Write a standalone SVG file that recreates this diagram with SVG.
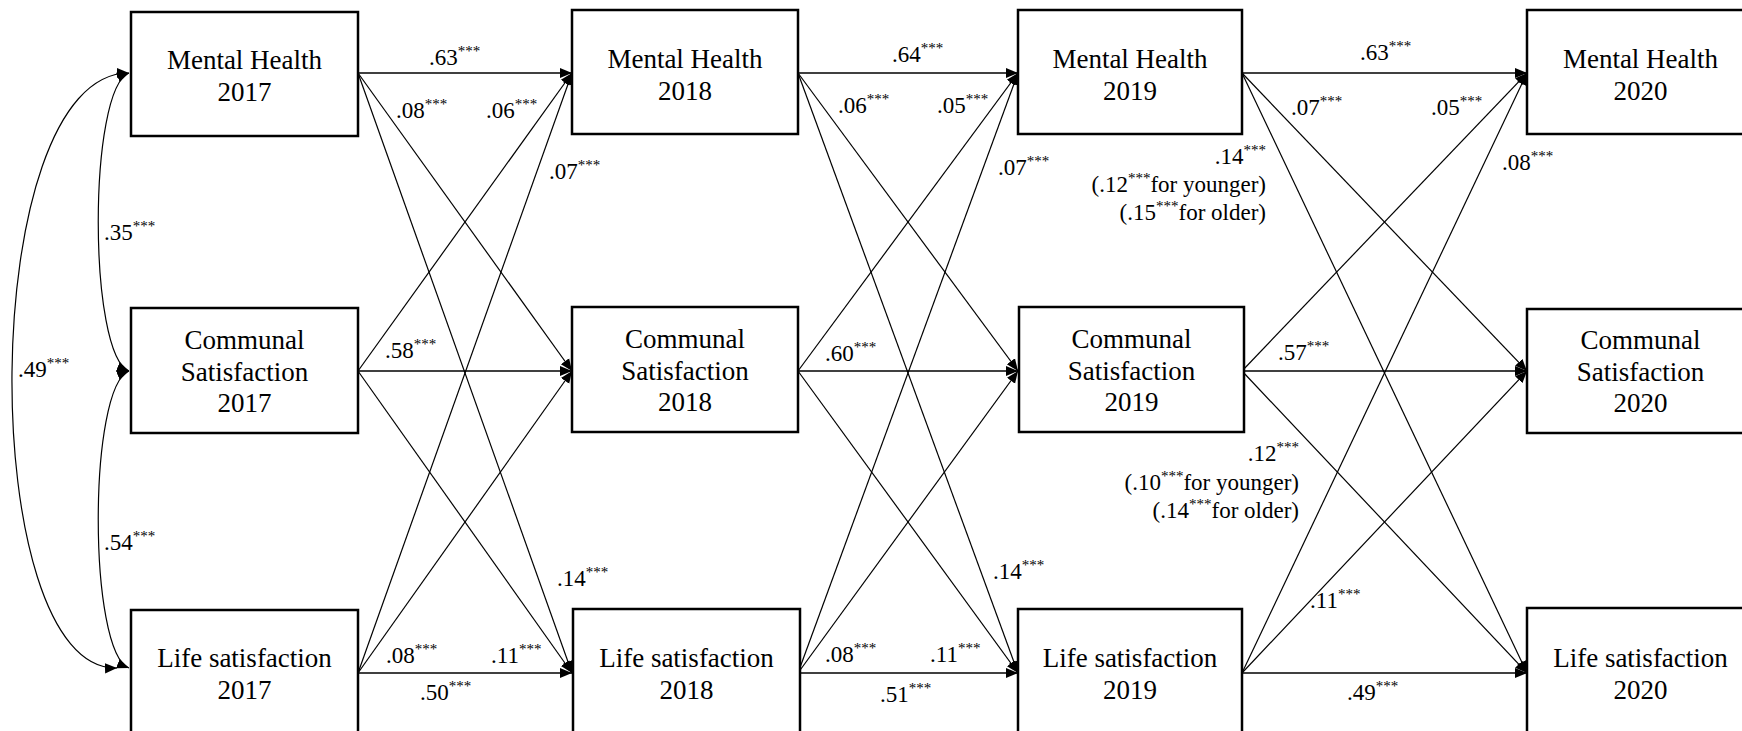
<svg xmlns="http://www.w3.org/2000/svg" width="1742" height="731" viewBox="0 0 1742 731">
<style>
.box{fill:#fff;stroke:#000;stroke-width:2.5}
.nt{font-family:"Liberation Serif","Times New Roman",serif;font-size:27px;text-anchor:middle;fill:#000}
.lb{font-family:"Liberation Serif","Times New Roman",serif;font-size:23px;fill:#000}
.st{font-size:15px}
.c{stroke:#000;stroke-width:1.2;fill:none;marker-end:url(#ah)}
.h{stroke-width:1.7}
.cv{stroke:#000;stroke-width:1.2;fill:none;marker-start:url(#ah);marker-end:url(#ah)}
</style>
<defs>
<marker id="ah" viewBox="0 0 10 10" refX="10" refY="5" markerWidth="12" markerHeight="12" markerUnits="userSpaceOnUse" orient="auto-start-reverse">
<path d="M0,0.8 L10,5 L0,9.2 z" fill="#000"/>
</marker>
</defs>
<rect x="0" y="0" width="1742" height="731" fill="#fff"/>

<g id="connectors">
<path class="cv" d="M129,73 C-25,73 -25,672 117,668"/>
<path class="cv" d="M129,73 C88,89 88,355 129,371"/>
<path class="cv" d="M129,371 C88,387 88,652 129,668"/>
<line class="c h" x1="358" y1="73" x2="572" y2="73"/>
<line class="c" x1="358" y1="73" x2="572" y2="371"/>
<line class="c" x1="358" y1="73" x2="572" y2="673"/>
<line class="c" x1="358" y1="371" x2="572" y2="73"/>
<line class="c h" x1="358" y1="371" x2="572" y2="371"/>
<line class="c" x1="358" y1="371" x2="572" y2="673"/>
<line class="c" x1="358" y1="673" x2="572" y2="73"/>
<line class="c" x1="358" y1="673" x2="572" y2="371"/>
<line class="c h" x1="358" y1="673" x2="572" y2="673"/>
<line class="c h" x1="798" y1="73" x2="1018" y2="73"/>
<line class="c" x1="798" y1="73" x2="1018" y2="371"/>
<line class="c" x1="798" y1="73" x2="1018" y2="673"/>
<line class="c" x1="798" y1="371" x2="1018" y2="73"/>
<line class="c h" x1="798" y1="371" x2="1018" y2="371"/>
<line class="c" x1="798" y1="371" x2="1018" y2="673"/>
<line class="c" x1="798" y1="673" x2="1018" y2="73"/>
<line class="c" x1="798" y1="673" x2="1018" y2="371"/>
<line class="c h" x1="798" y1="673" x2="1018" y2="673"/>
<line class="c h" x1="1242" y1="73" x2="1527" y2="73"/>
<line class="c" x1="1242" y1="73" x2="1527" y2="371"/>
<line class="c" x1="1242" y1="73" x2="1527" y2="673"/>
<line class="c" x1="1242" y1="371" x2="1527" y2="73"/>
<line class="c h" x1="1242" y1="371" x2="1527" y2="371"/>
<line class="c" x1="1242" y1="371" x2="1527" y2="673"/>
<line class="c" x1="1242" y1="673" x2="1527" y2="73"/>
<line class="c" x1="1242" y1="673" x2="1527" y2="371"/>
<line class="c h" x1="1242" y1="673" x2="1527" y2="673"/>
</g>

<g id="labels">
<text class="lb" x="104" y="240">.35<tspan class="st" dy="-9">***</tspan></text>
<text class="lb" x="18" y="377">.49<tspan class="st" dy="-9">***</tspan></text>
<text class="lb" x="104" y="550">.54<tspan class="st" dy="-9">***</tspan></text>

<text class="lb" x="429" y="65">.63<tspan class="st" dy="-9">***</tspan></text>
<text class="lb" x="396" y="118">.08<tspan class="st" dy="-9">***</tspan></text>
<text class="lb" x="486" y="118">.06<tspan class="st" dy="-9">***</tspan></text>
<text class="lb" x="549" y="179">.07<tspan class="st" dy="-9">***</tspan></text>
<text class="lb" x="385" y="358">.58<tspan class="st" dy="-9">***</tspan></text>
<text class="lb" x="557" y="586">.14<tspan class="st" dy="-9">***</tspan></text>
<text class="lb" x="386" y="663">.08<tspan class="st" dy="-9">***</tspan></text>
<text class="lb" x="491" y="663">.11<tspan class="st" dy="-9">***</tspan></text>
<text class="lb" x="420" y="700">.50<tspan class="st" dy="-9">***</tspan></text>

<text class="lb" x="892" y="62">.64<tspan class="st" dy="-9">***</tspan></text>
<text class="lb" x="838" y="113">.06<tspan class="st" dy="-9">***</tspan></text>
<text class="lb" x="937" y="113">.05<tspan class="st" dy="-9">***</tspan></text>
<text class="lb" x="998" y="175">.07<tspan class="st" dy="-9">***</tspan></text>
<text class="lb" x="825" y="361">.60<tspan class="st" dy="-9">***</tspan></text>
<text class="lb" x="993" y="579">.14<tspan class="st" dy="-9">***</tspan></text>
<text class="lb" x="825" y="662">.08<tspan class="st" dy="-9">***</tspan></text>
<text class="lb" x="930" y="662">.11<tspan class="st" dy="-9">***</tspan></text>
<text class="lb" x="880" y="702">.51<tspan class="st" dy="-9">***</tspan></text>

<text class="lb" x="1360" y="60">.63<tspan class="st" dy="-9">***</tspan></text>
<text class="lb" x="1291" y="115">.07<tspan class="st" dy="-9">***</tspan></text>
<text class="lb" x="1431" y="115">.05<tspan class="st" dy="-9">***</tspan></text>
<text class="lb" x="1502" y="170">.08<tspan class="st" dy="-9">***</tspan></text>
<text class="lb" x="1266" y="164" text-anchor="end">.14<tspan class="st" dy="-9">***</tspan></text>
<text class="lb" x="1266" y="192" text-anchor="end">(.12<tspan class="st" dy="-9">***</tspan><tspan dy="9">for younger)</tspan></text>
<text class="lb" x="1266" y="220" text-anchor="end">(.15<tspan class="st" dy="-9">***</tspan><tspan dy="9">for older)</tspan></text>
<text class="lb" x="1278" y="360">.57<tspan class="st" dy="-9">***</tspan></text>
<text class="lb" x="1299" y="461" text-anchor="end">.12<tspan class="st" dy="-9">***</tspan></text>
<text class="lb" x="1299" y="490" text-anchor="end">(.10<tspan class="st" dy="-9">***</tspan><tspan dy="9">for younger)</tspan></text>
<text class="lb" x="1299" y="518" text-anchor="end">(.14<tspan class="st" dy="-9">***</tspan><tspan dy="9">for older)</tspan></text>
<text class="lb" x="1310" y="608">.11<tspan class="st" dy="-9">***</tspan></text>
<text class="lb" x="1347" y="700">.49<tspan class="st" dy="-9">***</tspan></text>
</g>

<g id="mh2017"><rect class="box" x="131" y="12" width="227" height="124"/><text class="nt" x="244.5" y="69">Mental Health</text><text class="nt" x="244.5" y="101">2017</text></g>
<g id="cs2017"><rect class="box" x="131" y="308" width="227" height="125"/><text class="nt" x="244.5" y="349">Communal</text><text class="nt" x="244.5" y="381">Satisfaction</text><text class="nt" x="244.5" y="412">2017</text></g>
<g id="ls2017"><rect class="box" x="131" y="610" width="227" height="125"/><text class="nt" x="244.5" y="667">Life satisfaction</text><text class="nt" x="244.5" y="699">2017</text></g>

<g id="mh2018"><rect class="box" x="572" y="10" width="226" height="124"/><text class="nt" x="685" y="68">Mental Health</text><text class="nt" x="685" y="100">2018</text></g>
<g id="cs2018"><rect class="box" x="572" y="307" width="226" height="125"/><text class="nt" x="685" y="348">Communal</text><text class="nt" x="685" y="380">Satisfaction</text><text class="nt" x="685" y="411">2018</text></g>
<g id="ls2018"><rect class="box" x="573" y="609" width="227" height="126"/><text class="nt" x="686.5" y="667">Life satisfaction</text><text class="nt" x="686.5" y="699">2018</text></g>

<g id="mh2019"><rect class="box" x="1018" y="10" width="224" height="124"/><text class="nt" x="1130" y="68">Mental Health</text><text class="nt" x="1130" y="100">2019</text></g>
<g id="cs2019"><rect class="box" x="1019" y="307" width="225" height="125"/><text class="nt" x="1131.5" y="348">Communal</text><text class="nt" x="1131.5" y="380">Satisfaction</text><text class="nt" x="1131.5" y="411">2019</text></g>
<g id="ls2019"><rect class="box" x="1018" y="609" width="224" height="126"/><text class="nt" x="1130" y="667">Life satisfaction</text><text class="nt" x="1130" y="699">2019</text></g>

<g id="mh2020"><rect class="box" x="1527" y="10" width="227" height="124"/><text class="nt" x="1640.5" y="68">Mental Health</text><text class="nt" x="1640.5" y="100">2020</text></g>
<g id="cs2020"><rect class="box" x="1527" y="309" width="227" height="124"/><text class="nt" x="1640.5" y="349">Communal</text><text class="nt" x="1640.5" y="381">Satisfaction</text><text class="nt" x="1640.5" y="412">2020</text></g>
<g id="ls2020"><rect class="box" x="1527" y="608" width="227" height="127"/><text class="nt" x="1640.5" y="667">Life satisfaction</text><text class="nt" x="1640.5" y="699">2020</text></g>
</svg>
